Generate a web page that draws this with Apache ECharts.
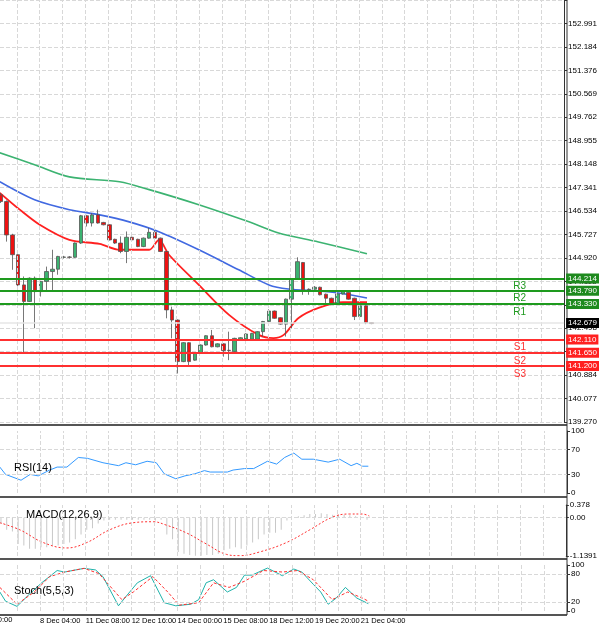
<!DOCTYPE html>
<html><head><meta charset="utf-8">
<script src="https://cdn.jsdelivr.net/npm/echarts@6/dist/echarts.min.js"></script>
<style>html,body{margin:0;padding:0;background:#fff}#c{width:600px;height:631px}</style>
</head><body><div id="c"></div>
<script>
// candles: [open, close, low, high]
const candles = [
[147.09,146.86,146.81,147.15],[146.86,145.71,145.48,146.90],[145.71,145.03,144.51,145.75],[145.03,143.99,143.93,145.05],
[143.99,143.42,141.63,144.28],[143.42,144.22,143.40,144.25],[144.22,143.76,142.50,144.28],[143.76,144.11,143.59,144.13],
[144.11,144.45,143.76,144.62],[144.45,144.53,143.76,145.20],[144.53,144.97,144.34,144.99],[144.94,144.95,144.90,144.99],
[144.95,144.94,144.90,144.98],[144.94,145.43,144.92,145.45],[145.43,146.37,145.40,146.40],[146.37,146.12,146.00,146.40],
[146.12,146.40,146.00,146.46],[146.40,146.12,146.10,146.58],[146.14,146.06,146.04,146.16],[146.06,145.54,145.52,146.08],
[145.56,145.43,145.40,145.58],[145.43,145.14,145.08,145.66],[145.14,145.63,144.74,145.83],[145.63,145.54,145.52,145.65],
[145.56,145.31,145.29,145.58],[145.31,145.60,145.29,145.62],[145.60,145.80,145.58,145.95],[145.80,145.60,145.58,145.85],
[145.60,145.14,145.12,145.62],[145.14,143.13,142.84,145.16],[143.13,142.78,142.15,143.24],[142.78,141.35,140.94,142.80],
[141.35,142.00,141.33,142.02],[142.00,141.35,141.23,142.02],[141.40,141.63,141.38,141.65],[141.63,141.92,141.61,141.94],
[141.92,142.24,141.90,142.26],[142.24,141.86,141.84,142.44],[141.86,141.96,141.84,141.98],[141.96,141.73,141.52,141.98],
[141.73,141.74,141.40,142.38],[141.69,142.15,141.67,142.17],[142.11,142.17,142.09,142.19],[142.12,142.30,142.10,142.32],
[142.12,142.32,142.10,142.34],[142.12,142.38,142.10,142.40],[142.38,142.73,142.21,142.75],[142.73,143.09,142.71,143.15],
[143.09,142.84,142.82,143.11],[142.86,142.64,142.62,142.88],[142.64,143.50,142.21,143.52],[143.50,144.19,142.50,144.21],
[144.19,144.79,144.17,144.94],[144.76,143.82,143.65,144.78],[143.84,143.83,143.65,143.87],[143.84,143.91,143.82,143.95],
[143.91,143.65,143.63,143.93],[143.67,143.53,143.30,143.69],[143.53,143.34,143.32,143.55],[143.34,143.68,143.32,143.70],
[143.68,143.78,143.66,143.80],[143.73,143.50,143.48,143.80],[143.53,142.90,142.78,143.55],[142.90,143.27,142.88,143.29],
[143.27,142.69,142.64,143.29],[142.69,142.66,142.64,142.70]
];
const maSlow = [[-0.2,148.54],[5.9,148.13],[12,147.71],[20.8,147.54],[26,147.27],[34.7,146.75],[43.5,146.16],[48.7,145.78],[55.7,145.47],[64.2,145.06]];
const maMid = [[-0.2,147.54],[5.9,146.92],[12,146.58],[17.3,146.40],[22.5,146.16],[27.7,145.82],[34.7,145.20],[41.7,144.51],[47,143.99],[50.4,143.85],[55.7,143.78],[59.2,143.71],[64.2,143.54]];
const maFast = [[-0.2,147.16],[3.3,146.58],[6.8,146.06],[12,145.54],[17.3,145.40],[20.8,145.20],[26,145.20],[27.7,145.54],[29.5,145.02],[34.7,143.99],[40,142.96],[45.2,142.27],[47.8,142.16],[49.6,142.27],[52.2,142.85],[55.7,143.20],[60,143.40],[64.2,143.40]];
const levels = [
  {name:'R3', value:144.214, kind:'r'},{name:'R2', value:143.790, kind:'r'},{name:'R1', value:143.330, kind:'r'},
  {name:'S1', value:142.110, kind:'s'},{name:'S2', value:141.650, kind:'s'},{name:'S3', value:141.200, kind:'s'}
];
const lastPrice = 142.679;
const rsi = [[-0.2,41.8],[0.8,30],[3.5,20.6],[5.1,30],[6.5,27.6],[8.5,37],[9.8,41.8],[11.5,41.8],[13.5,57.3],[15.1,55.9],[17.8,48.8],[20.5,44.1],[21.8,48.8],[23.5,45.5],[25.5,51.2],[27.1,48.8],[28.5,30.9],[30.5,23],[32.1,27.6],[33.8,30.9],[35.5,36.1],[36.5,33.8],[39.5,33.8],[40.5,37],[42.5,39.4],[44.1,39.4],[46.5,51.2],[48.1,46.6],[49.5,57.3],[51.1,64.4],[52.5,54.5],[54.5,54.5],[57.1,49.8],[59.1,54.5],[61.1,44.1],[62.1,47.9],[63.1,43.2],[64.1,43.2]];
const macdHist = [-0.17,-0.36,-0.41,-0.78,-0.83,-0.92,-0.92,-0.88,-0.88,-0.83,-0.83,-0.78,-0.74,-0.64,-0.50,-0.36,-0.31,-0.17,-0.08,-0.06,-0.06,-0.06,-0.06,-0.06,-0.06,-0.06,-0.06,-0.08,-0.06,-0.50,-0.64,-1.02,-1.07,-1.11,-1.13,-1.13,-1.11,-1.11,-1.07,-0.97,-0.92,-0.88,-0.92,-0.83,-0.74,-0.64,-0.50,-0.45,-0.45,-0.36,-0.08,0,0.04,0.07,0.11,0.11,0.13,0.11,0.09,0.09,0.09,0.07,0.04,0.02,-0.06];
const macdSignal = [[-0.2,-0.15],[3.3,-0.36],[7.4,-0.74],[11.5,-0.90],[15,-0.74],[19,-0.36],[23.1,-0.15],[26.6,-0.12],[28.9,-0.22],[32.4,-0.45],[35.9,-0.78],[39.4,-1.09],[41.7,-1.13],[45.2,-1.02],[49.9,-0.74],[54,-0.36],[58,0.02],[60.9,0.11],[63.2,0.11],[64.4,0.05]];
const stochK = [[-0.2,41.3],[0.8,21.3],[2.8,10],[4.8,34.7],[7.1,61.3],[9.8,88],[11.1,84.7],[14.5,92.7],[16.5,89.3],[17.8,74.7],[20.5,11.3],[21.8,31.3],[23.8,61.3],[26.1,76.7],[28.5,18],[30.5,11.3],[33.1,14.7],[34.5,24.7],[35.8,61.3],[37.1,68],[39.5,41.3],[41.1,51.3],[42.5,78],[43.8,78],[46.5,93.3],[49.1,76.7],[51.1,91.3],[52.5,84.7],[54.5,58],[55.8,41.3],[57.1,14.7],[58.5,28],[60.1,51.3],[62.1,28],[64.1,16]];
const stochD = [[-0.2,51.3],[2.8,14.7],[5.8,41.3],[8.5,74.7],[11.1,84.7],[14.5,92.7],[17.1,81.3],[21.1,24.7],[23.1,41.3],[26.5,74.7],[29.1,41.3],[31.1,12.7],[34.5,18],[37.1,61.3],[39.8,51.3],[42.5,64.7],[45.8,88],[49.1,84.7],[51.8,88],[54.5,68],[57.8,24.7],[60.5,41.3],[63.1,28],[64.1,21.3]];
const timeLabels = ['7 Dec 20:00','8 Dec 04:00','11 Dec 08:00','12 Dec 16:00','14 Dec 00:00','15 Dec 08:00','18 Dec 12:00','19 Dec 20:00','21 Dec 04:00'];
const timeTicks = [-1.2,6.8,14.8,22.8,30.8,38.8,46.8,54.8,62.8];
const vGrid = [2.8,6.8,10.8,14.8,18.8,22.8,26.8,30.8,34.8,38.8,42.8,46.8,50.8,54.8,58.8,62.8,66.8,70.8,74.8,78.8,82.8,86.8,90.8,94.8];

const FONT = 'Liberation Sans';
const grids = [
  {left:0, right:33, top:0, height:422},
  {left:0, right:33, top:431, height:62},
  {left:0, right:33, top:505, height:51},
  {left:0, right:33, top:565, height:46}
];
const nearestLabel = v=>{let b=-1,d=1e9;timeTicks.forEach((t,k)=>{const e=Math.abs(t-v);if(e<d){d=e;b=k;}});return d<0.5?timeLabels[b]:'';};
const xAxes = grids.map((g,i)=>({
  type:'value', gridIndex:i, min:-0.17, max:98.77,
  axisLine:{show:false}, axisTick:{show:false}, splitLine:{show:false},
  axisLabel: i===3 ? {show:true, fontFamily:FONT, fontSize:7.5, color:'#000', align:'left', margin:6,
    hideOverlap:false, showMinLabel:true, showMaxLabel:true,
    customValues:timeTicks.slice(1), formatter:nearestLabel} : {show:false}
}));
const axLine = {show:true, onZero:false, lineStyle:{color:'#333', width:1}};
const lab = {fontFamily:FONT, fontSize:8, color:'#000', margin:4};
const yAxes = [
  {type:'value', gridIndex:0, position:'right', min:139.27, max:153.7984, interval:0.8071, axisLine:axLine,
   axisTick:{show:true, length:3, lineStyle:{color:'#333'}},
   splitLine:{show:true, lineStyle:{color:'#d8d8d8', type:'dashed', width:1}},
   axisLabel:Object.assign({formatter:v=>v>153.5?'':v.toFixed(3)}, lab)},
  {type:'value', gridIndex:1, position:'right', min:0, max:100, axisLine:axLine, splitLine:{show:false},
   axisTick:{show:true, length:3, customValues:[0,30,70,100]},
   axisLabel:Object.assign({customValues:[0,30,70,100]}, lab)},
  {type:'value', gridIndex:2, position:'right', min:-1.1391, max:0.378, axisLine:axLine, splitLine:{show:false},
   axisTick:{show:true, length:3, customValues:[-1.1391,0,0.378]},
   axisLabel:Object.assign({customValues:[-1.1391,0,0.378], formatter:v=>v===0?'0.00':String(v)}, lab)},
  {type:'value', gridIndex:3, position:'right', min:0, max:100, axisLine:axLine, splitLine:{show:false},
   axisTick:{show:true, length:3, customValues:[0,20,80,100]},
   axisLabel:Object.assign({customValues:[0,20,80,100]}, lab)}
];
const gridLine = {color:'#d8d8d8', type:'dashed', width:1};
const hline = (vals)=>({silent:true, symbol:'none', label:{show:false}, lineStyle:gridLine, data:vals.map(v=>({yAxis:v}))});
const vlines = i=>({type:'line', xAxisIndex:i, yAxisIndex:i, data:[], z:0,
  markLine:{silent:true, symbol:'none', label:{show:false}, lineStyle:gridLine, data:vGrid.map(v=>({xAxis:v}))}});

const series = [
  vlines(0), vlines(1), vlines(2), vlines(3),
  {type:'line', xAxisIndex:0, yAxisIndex:0, data:[], z:1,
   markLine:{silent:true, symbol:'none', data:[{yAxis:lastPrice, lineStyle:{color:'#e6e6e6', width:1.5, type:'solid'},
     label:{show:true, position:'end', distance:2, formatter:lastPrice.toFixed(3), color:'#fff',
        backgroundColor:'#000', padding:[1,2], fontFamily:FONT, fontSize:8}}]}},
  {type:'line', xAxisIndex:0, yAxisIndex:0, data:[], z:1,
   markLine:{silent:true, symbol:'none', data:levels.map(l=>({yAxis:l.value,
      lineStyle:{color:l.kind==='r'?'#1e9a1e':'#ff3030', width:2, type:'solid'},
      label:{show:true, position:'end', distance:2, formatter:l.value.toFixed(3), color:'#fff',
        backgroundColor:l.kind==='r'?'#1e8a1e':'#ff2020', padding:[1,2], fontFamily:FONT, fontSize:8}}))}},
  {type:'candlestick', xAxisIndex:0, yAxisIndex:0, barWidth:4, z:3,
   data:candles.map((c,i)=>[i,c[0],c[1],c[2],c[3]]), encode:{x:0, y:[1,2,3,4]},
   itemStyle:{color:'#3cb371', color0:'#ee1111', borderColor:'#555', borderColor0:'#555', borderWidth:0.8},
   markLine:{silent:true, symbol:'none', data:levels.map(l=>({yAxis:l.value,
      lineStyle:{color:l.kind==='r'?'#1e9a1e':'#ff3030', width:2, type:'solid'},
      label:{show:true, position:'insideEndBottom', distance:[38,3], formatter:l.name,
        color:l.kind==='r'?'#1e9a1e':'#ff3030', fontFamily:FONT, fontSize:10}}))}},
  {type:'line', xAxisIndex:0, yAxisIndex:0, data:maSlow, showSymbol:false, smooth:0.3, lineStyle:{color:'#3cb371', width:1.6}},
  {type:'line', xAxisIndex:0, yAxisIndex:0, data:maMid, showSymbol:false, smooth:0.3, lineStyle:{color:'#4169e1', width:1.6}},
  {type:'line', xAxisIndex:0, yAxisIndex:0, data:maFast, showSymbol:false, smooth:0.3, lineStyle:{color:'#ff2020', width:1.8}},
  {type:'line', xAxisIndex:1, yAxisIndex:1, data:rsi, showSymbol:false, lineStyle:{color:'#3399ff', width:1}, markLine:hline([30,70])},
  {type:'bar', xAxisIndex:2, yAxisIndex:2, data:macdHist.map((v,i)=>[i,v]), barWidth:1, itemStyle:{color:'#c8c8c8'}, markLine:hline([0])},
  {type:'line', xAxisIndex:2, yAxisIndex:2, data:macdSignal, showSymbol:false, smooth:0.4, lineStyle:{color:'#ff3030', width:1, type:[2,2]}},
  {type:'line', xAxisIndex:3, yAxisIndex:3, data:stochK, showSymbol:false, lineStyle:{color:'#20b2aa', width:1}, markLine:hline([20,80])},
  {type:'line', xAxisIndex:3, yAxisIndex:3, data:stochD, showSymbol:false, lineStyle:{color:'#ff3030', width:1, type:[3,2]}}
];
const sep = y=>({type:'line', shape:{x1:0,y1:y,x2:567,y2:y}, style:{stroke:'#555', lineWidth:2}});
const chart = echarts.init(document.getElementById('c'));
chart.setOption({
  animation:false, backgroundColor:'#fff',
  grid:grids, xAxis:xAxes, yAxis:yAxes, series:series,
  title:[
    {text:'RSI(14)', left:9, top:457, textStyle:{fontFamily:FONT, fontSize:11, fontWeight:'normal', color:'#000'}},
    {text:'MACD(12,26,9)', left:21, top:504, textStyle:{fontFamily:FONT, fontSize:11, fontWeight:'normal', color:'#000'}},
    {text:'Stoch(5,5,3)', left:9, top:580, textStyle:{fontFamily:FONT, fontSize:11, fontWeight:'normal', color:'#000'}}
  ],
  graphic:[sep(425), sep(497), sep(559), sep(615),
    {type:'line', shape:{x1:567,y1:0,x2:567,y2:615}, style:{stroke:'#333', lineWidth:1}},
    {type:'text', left:-28, top:616, style:{text:timeLabels[0], font:'7.5px "Liberation Sans"', fill:'#000'}}]
});
</script></body></html>
